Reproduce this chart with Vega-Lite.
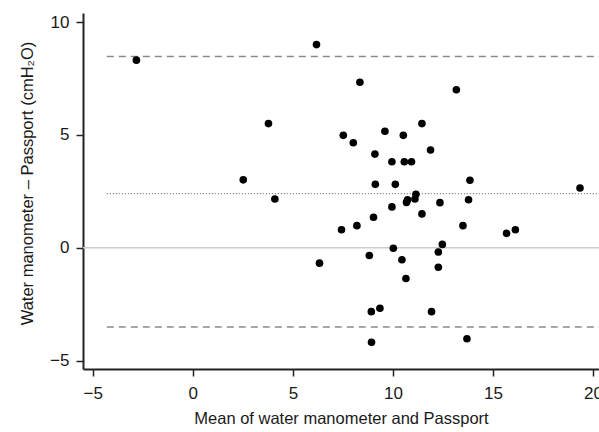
{
  "$schema": "https://vega.github.io/schema/vega-lite/v6.json",
  "autosize": {"type": "none"},
  "padding": {"left": 83, "top": 13, "right": 0, "bottom": 63},
  "width": 516,
  "height": 356,
  "background": "white",
  "config": {
    "view": {"stroke": null},
    "axis": {
      "grid": false,
      "domainColor": "#222",
      "domainWidth": 2,
      "tickColor": "#222",
      "tickWidth": 1.5,
      "tickSize": 7,
      "labelFont": "Liberation Sans",
      "labelFontSize": 17,
      "labelColor": "#1a1a1a",
      "titleFont": "Liberation Sans",
      "titleFontSize": 16.5,
      "titleFontWeight": "normal",
      "titleColor": "#1a1a1a"
    }
  },
  "datasets": {
    "pts": [
      {"mean": -2.82, "diff": 8.31},
      {"mean": 3.78, "diff": 5.50},
      {"mean": 2.52, "diff": 3.01},
      {"mean": 4.10, "diff": 2.16},
      {"mean": 6.18, "diff": 9.00},
      {"mean": 8.35, "diff": 7.33},
      {"mean": 13.17, "diff": 7.00},
      {"mean": 11.45, "diff": 5.50},
      {"mean": 7.52, "diff": 4.98},
      {"mean": 8.02, "diff": 4.65},
      {"mean": 9.60, "diff": 5.16},
      {"mean": 10.52, "diff": 4.98},
      {"mean": 9.10, "diff": 4.15},
      {"mean": 11.88, "diff": 4.33},
      {"mean": 9.95, "diff": 3.81},
      {"mean": 10.57, "diff": 3.81},
      {"mean": 10.93, "diff": 3.81},
      {"mean": 9.12, "diff": 2.81},
      {"mean": 10.12, "diff": 2.81},
      {"mean": 13.85, "diff": 2.99},
      {"mean": 19.35, "diff": 2.65},
      {"mean": 11.15, "diff": 2.37},
      {"mean": 11.10, "diff": 2.16},
      {"mean": 10.73, "diff": 2.13},
      {"mean": 10.68, "diff": 2.01},
      {"mean": 13.78, "diff": 2.13},
      {"mean": 12.35, "diff": 2.00},
      {"mean": 9.95, "diff": 1.81},
      {"mean": 11.45, "diff": 1.50},
      {"mean": 9.03, "diff": 1.35},
      {"mean": 7.43, "diff": 0.80},
      {"mean": 8.20, "diff": 0.98},
      {"mean": 13.50, "diff": 0.98},
      {"mean": 15.68, "diff": 0.64},
      {"mean": 16.12, "diff": 0.80},
      {"mean": 10.02, "diff": -0.02},
      {"mean": 12.47, "diff": 0.15},
      {"mean": 12.27, "diff": -0.19},
      {"mean": 8.82, "diff": -0.34},
      {"mean": 6.33, "diff": -0.68},
      {"mean": 10.45, "diff": -0.53},
      {"mean": 12.27, "diff": -0.86},
      {"mean": 10.65, "diff": -1.36},
      {"mean": 9.35, "diff": -2.68},
      {"mean": 8.92, "diff": -2.83},
      {"mean": 11.93, "diff": -2.83},
      {"mean": 8.93, "diff": -4.19},
      {"mean": 13.70, "diff": -4.03}
    ],
    "zero": [{"y": 0}],
    "limits": [
      {"y": 8.47, "x": -4.3, "x2": 20.3},
      {"y": -3.51, "x": -4.3, "x2": 20.3}
    ],
    "bias": [{"y": 2.4, "x": -4.3, "x2": 20.3}]
  },
  "layer": [
    {
      "data": {"name": "zero"},
      "mark": {"type": "rule", "color": "#cccccc", "strokeWidth": 1.5},
      "encoding": {
        "y": {"field": "y", "type": "quantitative", "scale": {"domain": [-5.37, 10.4], "nice": false, "zero": false}}
      }
    },
    {
      "data": {"name": "limits"},
      "mark": {"type": "rule", "color": "#8a8a8a", "strokeWidth": 1.6, "strokeDash": [7, 5]},
      "encoding": {
        "x": {"field": "x", "type": "quantitative"},
        "x2": {"field": "x2"},
        "y": {"field": "y", "type": "quantitative"}
      }
    },
    {
      "data": {"name": "bias"},
      "mark": {"type": "rule", "color": "#777777", "strokeWidth": 1.2, "strokeDash": [1, 2]},
      "encoding": {
        "x": {"field": "x", "type": "quantitative"},
        "x2": {"field": "x2"},
        "y": {"field": "y", "type": "quantitative"}
      }
    },
    {
      "data": {"name": "pts"},
      "mark": {"type": "circle", "color": "#000000", "opacity": 1, "size": 58},
      "encoding": {
        "x": {
          "field": "mean", "type": "quantitative",
          "scale": {"domain": [-5.49, 20.3], "nice": false, "zero": false},
          "axis": {"title": "Mean of water manometer and Passport", "values": [-5, 0, 5, 10, 15, 20], "labelPadding": 9, "titlePadding": 9, "labelFlush": false}
        },
        "y": {
          "field": "diff", "type": "quantitative",
          "scale": {"domain": [-5.37, 10.4], "nice": false, "zero": false},
          "axis": {"title": "Water manometer – Passport (cmH₂O)", "values": [-5, 0, 5, 10], "labelPadding": 7, "titlePadding": 14, "titleY": 170, "labelFlush": false}
        }
      }
    }
  ]
}
